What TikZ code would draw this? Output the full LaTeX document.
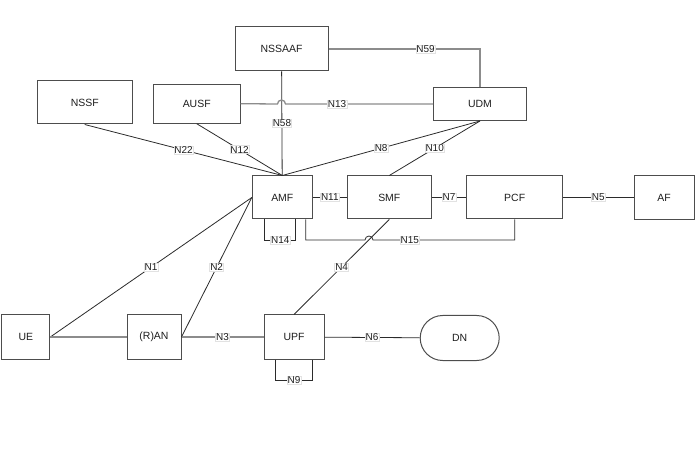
\documentclass[tikz,border=0pt]{standalone}
\usepackage{fontspec}
\setmainfont{Liberation Sans}
\usetikzlibrary{shapes.misc}
\definecolor{ink}{HTML}{1E1E1E}
\definecolor{rim}{HTML}{4D4D4D}
\definecolor{wire}{HTML}{2B2B2B}
\definecolor{wire2}{HTML}{8C8C8C}
\definecolor{tagrim}{HTML}{E2E2E2}
\tikzset{
  every picture/.style={font=\fontsize{10}{12}\selectfont},
  nf/.style={draw=rim,fill=white,line width=1bp,inner sep=1bp,minimum height=43bp,text=ink,font=\fontsize{10.5}{12}\selectfont},
  dn/.style={nf,rounded rectangle},
  ln/.style={draw=wire,line width=0.8bp},
  lng/.style={draw=wire2,line width=1.3bp},
  tag/.style={fill=white,draw=tagrim,line width=0.4bp,inner sep=0.6bp,text=ink},
}
\begin{document}
\begin{tikzpicture}[x=1bp,y=-1bp]
  \useasboundingbox (0,0) rectangle (696,466);
  \node[nf,minimum width=93bp,minimum height=44bp] (nssaaf) at (281.5,49) {NSSAAF};
  \node[nf,minimum width=95bp] (nssf) at (84.7,102.5) {NSSF};
  \node[nf,minimum width=87bp,minimum height=39bp] (ausf) at (196.7,103.7) {AUSF};
  \node[nf,minimum width=93bp,minimum height=33bp] (udm) at (480,104) {UDM};
  \node[nf,minimum width=60bp] (amf) at (282.3,197.5) {AMF};
  \node[nf,minimum width=84bp] (smf) at (389.3,197.5) {SMF};
  \node[nf,minimum width=96bp] (pcf) at (514.7,197.5) {PCF};
  \node[nf,minimum width=60bp,minimum height=44bp] (af) at (664,197.5) {AF};
  \node[nf,minimum width=48bp,minimum height=44bp] (ue) at (25.8,337) {UE};
  \node[nf,minimum width=54bp,minimum height=44bp] (ran) at (154,337) {(R)AN};
  \node[nf,minimum width=60bp,minimum height=44bp] (upf) at (294,337) {UPF};
  \node[dn,minimum width=81bp,minimum height=45bp] (dn) at (459.7,338) {DN};
  \coordinate (hop13) at (nssaaf.south |- udm.west);
  \coordinate (hop15) at (369,240);
  \draw[lng] (nssaaf.east) -| node[tag,pos=0.32]{N59} (udm.north);
  \draw[ln] (nssaaf) -- node[tag]{N58} (amf);
  \draw[lng] (ausf.east) -- ([xshift=-4bp]hop13) arc[start angle=180,end angle=0,radius=4bp] -- node[tag,pos=0.35]{N13} (udm.west);
  \draw[ln] (nssf.south) -- node[tag]{N22} (amf.north);
  \draw[ln] (ausf.south) -- node[tag]{N12} (amf.north);
  \draw[ln] (udm.south) -- node[tag]{N8} (amf.north);
  \draw[ln] (udm.south) -- node[tag]{N10} (smf.north);
  \draw[ln] (amf) -- node[tag]{N11} (smf);
  \draw[ln] (smf) -- node[tag]{N7} (pcf);
  \draw[ln] (pcf) -- node[tag]{N5} (af);
  \draw[ln] ([xshift=13bp]amf.south west) -- ++(0,21) -| node[tag,pos=0.25]{N14} ([xshift=-17bp]amf.south east);
  \draw[ln] ([xshift=-7bp]amf.south east) |- ([xshift=-4bp]hop15) arc[start angle=180,end angle=0,radius=4bp] -| node[tag,pos=0.13]{N15} (pcf.south);
  \draw[ln] (smf.south) -- node[tag]{N4} (upf.north);
  \draw[ln] (ue.east) -- node[tag]{N1} (amf.west);
  \draw[ln] (ran.east) -- node[tag]{N2} (amf.west);
  \draw[lng] (ue) -- (ran);
  \draw[lng] (ran) -- node[tag]{N3} (upf);
  \draw[ln] (upf) -- node[tag]{N6} (dn);
  \draw[ln] ([xshift=12bp]upf.south west) -- ++(0,21) -| node[tag,pos=0.25]{N9} ([xshift=-12bp]upf.south east);
\end{tikzpicture}
\end{document}
